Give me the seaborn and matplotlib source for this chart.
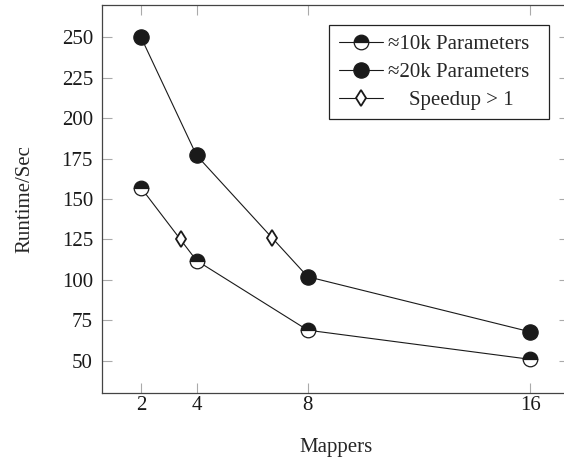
import numpy as np
import pandas as pd
import seaborn as sns
import matplotlib.pyplot as plt
from matplotlib.lines import Line2D

# === Daten ===
mappers = [2, 4, 8, 16]
runtime_10k = [157, 112, 69, 51]
runtime_20k = [250, 177, 102, 68]

speedup_x = [3.43, 6.7]
speedup_y = [125, 126]

x_ticks = [2, 4, 8, 16]
y_ticks = [50, 75, 100, 125, 150, 175, 200, 225, 250]

labels = ["≈10k Parameters  ", "≈20k Parameters  ", "    Speedup > 1"]

# === Stil ===
sns.set_style("ticks")
plt.rcParams['font.family'] = ['Liberation Serif', 'DejaVu Serif']
fs = 15

line_col = "#1a1a1a"

fig = plt.figure(figsize=(5.64, 4.61), dpi=100)
ax = fig.add_axes([102 / 564, 68 / 461, 467 / 564, 388 / 461])

sns.lineplot(x=mappers, y=runtime_10k, ax=ax, color=line_col, linewidth=0.8,
             marker="o", markersize=10.5, fillstyle="top",
             markerfacecolor=line_col, markerfacecoloralt="white",
             markeredgecolor=line_col, markeredgewidth=0.9)
sns.lineplot(x=mappers, y=runtime_20k, ax=ax, color=line_col, linewidth=0.8,
             marker="o", markersize=11, markerfacecolor=line_col,
             markeredgecolor=line_col, markeredgewidth=0.9)
sns.lineplot(x=speedup_x, y=speedup_y, ax=ax, color=line_col, linestyle="",
             marker="d", markersize=8, markerfacecolor="white",
             markeredgecolor=line_col, markeredgewidth=1.3)

# === Achsen ===
ax.set_xlim(0.6, 17.4)
ax.set_ylim(30.2, 269.8)
ax.set_xticks(x_ticks)
ax.set_yticks(y_ticks)
ax.tick_params(direction="in", length=7, width=0.8, color="#aaaaaa",
               labelsize=fs, labelcolor="#1a1a1a", top=True, right=True)
ax.tick_params(axis="x", pad=2.5)
ax.tick_params(axis="y", pad=6.5)
for sp in ax.spines.values():
    sp.set_color("#444444")
    sp.set_linewidth(0.9)

ax.set_xlabel("Mappers", fontsize=fs)
ax.set_ylabel("Runtime/Sec", fontsize=fs)
ax.xaxis.set_label_coords(0.5, -0.117)
ax.yaxis.set_label_coords(-0.145, 0.5)

# === Legende ===
handles = [
    Line2D([], [], color=line_col, linewidth=0.8, marker="o", markersize=10.5,
           fillstyle="top", markerfacecolor=line_col, markerfacecoloralt="white",
           markeredgecolor=line_col, markeredgewidth=0.9),
    Line2D([], [], color=line_col, linewidth=0.8, marker="o", markersize=11,
           markerfacecolor=line_col, markeredgecolor=line_col, markeredgewidth=0.9),
    Line2D([], [], color=line_col, linewidth=0.8, marker="d", markersize=8,
           markerfacecolor="white", markeredgecolor=line_col, markeredgewidth=1.3),
]
leg = ax.legend(handles, labels, loc="upper right", bbox_to_anchor=(0.957, 0.948),
                borderaxespad=0, fancybox=False, frameon=True, edgecolor="#222222",
                framealpha=1, handlelength=2.1, handletextpad=0.25,
                labelspacing=0.4, borderpad=0.45, fontsize=fs)
leg.get_frame().set_linewidth(0.9)

plt.savefig("out.png", dpi=100)
